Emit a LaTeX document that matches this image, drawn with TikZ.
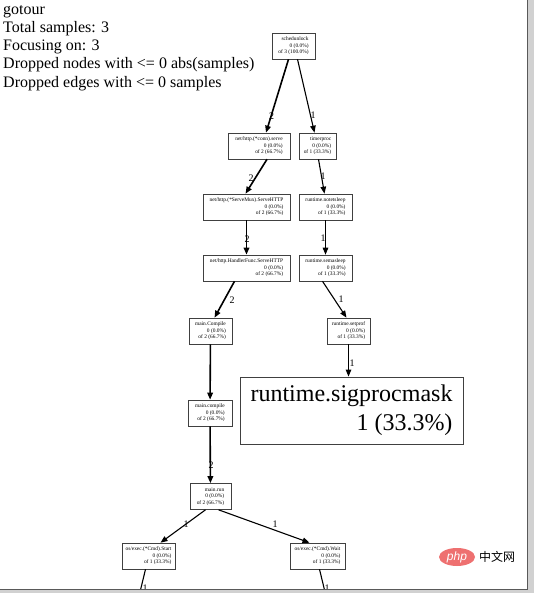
\documentclass[tikz,border=0pt]{standalone}
\usepackage{fontspec}
\setmainfont{Liberation Serif}
\newfontfamily\cjkfont{Noto Sans CJK SC}
\newfontfamily\sansfnt{Liberation Sans}
\usetikzlibrary{arrows.meta,shapes.geometric}
\begin{document}
\begin{tikzpicture}[x=1pt,y=-1pt,
  fn/.style={draw=black!75, line width=0.6pt, fill=white, font=\fontsize{5.4}{6.6}\selectfont, align=right, inner sep=1.5pt, minimum height=26pt},
  edge/.style={-{Triangle[length=7pt,width=5.5pt]}, line width=1.1pt},
  heavy/.style={edge, line width=1.6pt},
  lbl/.style={font=\fontsize{10}{11}\selectfont, inner sep=0.5pt}]
\useasboundingbox (0,0) rectangle (534,593);
\fill[white] (0,0) rectangle (534,593);

\node[anchor=north west, align=left, font=\fontsize{16}{18.2}\selectfont, inner sep=0] (hdr) at (3,5)
  {gotour\\Total samples: 3\\Focusing on: 3\\Dropped nodes with <= 0 abs(samples)\\Dropped edges with <= 0 samples};

\node[fn, minimum width=43pt] (sched) at (293.5,46) {schedunlock\\0 (0.0\%)\\of 3 (100.0\%)};
\node[fn, minimum width=62pt] (serve) at (259,146) {net/http.(*conn).serve\\0 (0.0\%)\\of 2 (66.7\%)};
\node[fn, minimum width=37pt] (timer) at (317.5,146) {timerproc\\0 (0.0\%)\\of 1 (33.3\%)};
\node[fn, minimum width=87pt] (mux) at (246.5,207) {net/http.(*ServeMux).ServeHTTP\\0 (0.0\%)\\of 2 (66.7\%)};
\node[fn, minimum width=53pt] (nts) at (325.5,207) {runtime.notetsleep\\0 (0.0\%)\\of 1 (33.3\%)};
\node[fn, minimum width=87pt] (hf) at (246.5,268) {net/http.HandlerFunc.ServeHTTP\\0 (0.0\%)\\of 2 (66.7\%)};
\node[fn, minimum width=53pt] (sema) at (325.5,268) {runtime.semasleep\\0 (0.0\%)\\of 1 (33.3\%)};
\node[fn, minimum width=43pt] (mC) at (210.5,331) {main.Compile\\0 (0.0\%)\\of 2 (66.7\%)};
\node[fn, minimum width=43pt] (setprof) at (348.5,331) {runtime.setprof\\0 (0.0\%)\\of 1 (33.3\%)};
\node[draw=black!75, line width=0.8pt, fill=white, minimum width=223pt, minimum height=67pt, align=right, inner sep=3pt, font=\fontsize{24}{29}\selectfont] (sig) at (351.5,410.5) {runtime.sigprocmask\\1 (33.3\%)};
\node[fn, minimum width=44pt] (mc) at (210,413) {main.compile\\0 (0.0\%)\\of 2 (66.7\%)};
\node[fn, minimum width=41pt] (run) at (210.5,496.5) {main.run\\0 (0.0\%)\\of 2 (66.7\%)};
\node[fn, minimum width=53pt] (start) at (148.5,556) {os/exec.(*Cmd).Start\\0 (0.0\%)\\of 1 (33.3\%)};
\node[fn, minimum width=55pt] (wait) at (317.5,556) {os/exec.(*Cmd).Wait\\0 (0.0\%)\\of 1 (33.3\%)};

\coordinate (c1) at (140,592);
\coordinate (c2) at (325,592);

\draw[heavy] ([xshift=-5pt]sched.south) -- ([xshift=7pt]serve.north);
\draw[edge] ([xshift=4pt]sched.south) -- ([xshift=-3pt]timer.north);
\draw[heavy] ([xshift=8pt]serve.south) -- ([xshift=-1pt]mux.north);
\draw[edge] ([xshift=1pt]timer.south) -- ([xshift=-1pt]nts.north);
\draw[heavy] (mux) -- (hf);
\draw[edge] (nts) -- (sema);
\draw[heavy] ([xshift=-12pt]hf.south) -- ([xshift=4pt]mC.north);
\draw[edge] ([xshift=-3pt]sema.south) -- ([xshift=-2pt]setprof.north);
\draw[heavy] (mC) -- (mc);
\draw[edge] (setprof.south) -- (sig.north -| setprof.south);
\draw[heavy] (mc) -- (run);
\draw[edge] ([xshift=-5pt]run.south) -- ([xshift=12pt]start.north);
\draw[edge] ([xshift=8pt]run.south) -- ([xshift=-8pt]wait.north);
\draw[line width=1.1pt] ([xshift=-3pt]start.south) -- (c1);
\draw[line width=1.1pt] ([xshift=2pt]wait.south) -- (c2);

\node[lbl] (l1) at (271.5,116) {2};
\node[lbl] (l2) at (313,115) {1};
\node[lbl] (l3) at (251,178) {2};
\node[lbl] (l4) at (323,176) {1};
\node[lbl] (l5) at (247,239) {2};
\node[lbl] (l6) at (323,238) {1};
\node[lbl] (l7) at (232,300) {2};
\node[lbl] (l8) at (341,299) {1};
\node[lbl] (l9) at (352,363) {1};
\node[lbl] (l10) at (211,465) {2};
\node[lbl] (l11) at (186,524) {1};
\node[lbl] (l12) at (275,524) {1};
\node[lbl] (l13) at (145,588) {1};
\node[lbl] (l14) at (327,588) {1};

% screenshot frame shadow
\fill[black!18] (527.5,0) rectangle (534,593);
\fill[black!18] (0,589.5) rectangle (534,593);
\draw[black!65, line width=1pt] (527.5,0) -- (527.5,589.5) -- (0,589.5);

% watermark
\node[ellipse, fill={rgb,255:red,238;green,112;blue,112}, minimum width=36pt, minimum height=18pt, inner sep=0, text=white, font=\sansfnt\itshape\fontsize{12}{12}\selectfont] (php) at (457,557) {php};
\node[anchor=west, inner sep=0, font=\cjkfont\fontsize{12}{12}\selectfont] (cn) at (479,557) {中文网};
\end{tikzpicture}
\end{document}
